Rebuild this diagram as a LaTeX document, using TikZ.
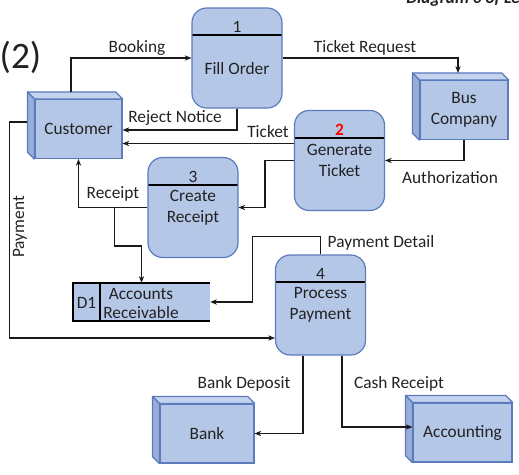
\documentclass[tikz,border=0pt]{standalone}
\usepackage{fontspec}
\setmainfont{Carlito}
\usetikzlibrary{positioning, calc, arrows.meta}
\definecolor{procfill}{HTML}{B4C7E7}
\definecolor{procdraw}{HTML}{5B7BBD}
\definecolor{topfill}{HTML}{C4D3EE}
\definecolor{sidefill}{HTML}{98AED8}
\definecolor{inkline}{HTML}{1A1A1A}
\definecolor{textgray}{HTML}{222222}
\tikzset{
    process/.style={draw=procdraw, fill=procfill, line width=0.9pt,
      rounded corners=11pt, minimum width=67.5pt, minimum height=75pt,
      align=center, inner sep=0pt,
      path picture={\draw[black, line width=1.4pt]
        ([yshift=-20.5pt]path picture bounding box.north west) --
        ([yshift=-20.5pt]path picture bounding box.north east);}},
    entity/.style={draw=procdraw, fill=procfill, line width=0.9pt,
      minimum height=44.25pt, inner sep=0pt, align=center},
    topface/.style={draw=procdraw, fill=topfill, line width=0.9pt, line join=round},
    sideface/.style={draw=procdraw, fill=sidefill, line width=0.9pt, line join=round},
    store/.style={fill=procfill, minimum width=102.75pt, minimum height=28.5pt, inner sep=0pt},
    storeline/.style={draw=black, line width=1.5pt},
    num/.style={inner sep=0pt},
    flow/.style={draw=inkline, line width=0.9pt, -{Stealth[length=5pt, width=4pt]}},
    flowlabel/.style={inner sep=0pt},
}
\begin{document}
\begin{tikzpicture}[x=0.75pt, y=-0.75pt, font=\fontsize{13pt}{15.75pt}\selectfont, text=textgray]
    \useasboundingbox (0,0) rectangle (519,475);

    \node[inner sep=0pt, font=\fontsize{28pt}{30pt}\selectfont] (title) at (20.5,57) {(2)};
    \node[anchor=base west, inner sep=0pt, font=\fontsize{13pt}{15pt}\selectfont\bfseries\itshape] (dtitle) at (406,3) {Diagram 0 of Le};

    % external entities
    \node[entity, minimum width=65.25pt] (cust) at (78.5,129) {Customer};
    \node[entity, minimum width=66pt] (bus) at (464,110) {Bus\\Company};
    \node[entity, minimum width=70.5pt] (bank) at (207,433.5) {Bank};
    \node[entity, minimum width=74.25pt] (acct) at (462.5,432.5) {Accounting};

    \foreach \n in {cust, bus, bank, acct} {
      \draw[topface] (\n.north west) -- ++(-7,-7) -- ($(\n.north east)+(-7,-7)$) -- (\n.north east) -- cycle;
      \draw[sideface] (\n.north west) -- ++(-7,-7) -- ($(\n.south west)+(-7,-7)$) -- (\n.south west) -- cycle;
    }

    % processes
    \node[process, text height=25pt] (fill) at (237,58) {Fill Order};
    \node[process] (gen) at (339.5,160.5) {Generate\\Ticket};
    \node[process] (cr) at (193,207.5) {Create\\Receipt};
    \node[process] (pp) at (320.5,305) {Process\\Payment};

    \node[num] (n1) at ($(fill.north)+(0,20)$) {1};
    \node[num, text=red] (n2) at ($(gen.north)+(0,20)$) {\textbf{2}};
    \node[num] (n3) at ($(cr.north)+(0,20)$) {3};
    \node[num] (n4) at ($(pp.north)+(0,20)$) {4};

    % data store
    \node[store] (ar) at (141.5,302) {};
    \draw[storeline] (ar.north east) -- (ar.north west) -- (ar.south west) -- (ar.south east);
    \draw[storeline] ($(ar.north west)+(27,0)$) -- ($(ar.south west)+(27,0)$);
    \node[inner sep=0pt] (d1) at (86.5,303) {D1};
    \node[inner sep=0pt, align=center, font=\fontsize{13pt}{14.25pt}\selectfont] (artext) at (141,303.5) {Accounts\\Receivable};

    % flows
    \draw[flow] ($(cust.north)+(-7.5,-7)$) |- (fill.west);
    \draw[flow] (fill.east) -| ($(bus.north)+(-6,-7)$);
    \draw[flow] (fill.south) |- ($(cust.east)+(0,1)$);
    \coordinate (tk) at ($(gen.west)+(0,-17)$);
    \draw[flow] (tk) -- (tk -| cust.east);
    \draw[flow] (bus.south) |- (gen.east);
    \draw[flow] (gen.west) -- ++(-29,0) |- (cr.east);
    \draw[flow] (cr.west) -| (cust.south);
    \coordinate (rc) at ($(cr.west)+(-33,0)$);
    \draw[flow] (rc) -- ++(0,38.5) -| (ar.north);
    \draw[flow] (pp.north) |- ++(-68,-18) |- (ar.east);
    \coordinate (pay) at ($(cust.west)+(-7,-7)$);
    \draw[flow] (pay) -- ++(-18,0) |- ($(pp.west)+(0,33)$);
    \draw[flow] ($(pp.south)+(-17.5,0)$) |- (bank.east);
    \draw[flow] ($(pp.south)+(21.5,0)$) |- ($(acct.west)+(0,-5.5)$);

    % flow labels
    \node[flowlabel] (lbook) at (137,47.5) {Booking};
    \node[flowlabel] (lreq) at (365,47.5) {Ticket Request};
    \node[flowlabel] (lrej) at (175,118) {Reject Notice};
    \node[flowlabel] (ltk) at (268,132) {Ticket};
    \node[flowlabel] (lauth) at (450,178) {Authorization};
    \node[flowlabel] (lrec) at (113,194) {Receipt};
    \node[flowlabel] (ldet) at (381,243) {Payment Detail};
    \node[flowlabel, rotate=90] (lpay) at (20,227) {Payment};
    \node[flowlabel] (ldep) at (244,384) {Bank Deposit};
    \node[flowlabel] (lcash) at (399,384) {Cash Receipt};
\end{tikzpicture}
\end{document}
